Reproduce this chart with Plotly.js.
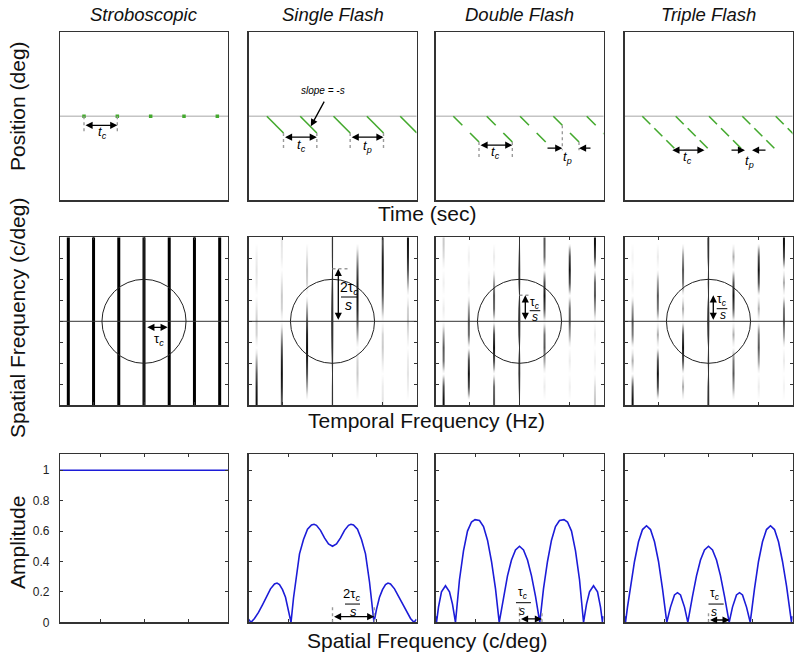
<!DOCTYPE html>
<html><head><meta charset="utf-8">
<script src="https://cdn.plot.ly/plotly-3.0.1.min.js"></script>
<style>html,body{margin:0;padding:0;background:#fff}#chart{width:800px;height:658px}</style>
</head><body><div id="chart"></div>
<script>
// ================= DATA =================
const panelTitles = ['Stroboscopic', 'Single Flash', 'Double Flash', 'Triple Flash'];
const rowXTitles = ['Time (sec)', 'Temporal Frequency (Hz)', 'Spatial Frequency (c/deg)'];
const rowYTitles = ['Position (deg)', 'Spatial Frequency (c/deg)', 'Amplitude'];

// Row 1: space-time (time in units of t_c, position in deg)
const strobeFlashTimes = [0.72, 1.72, 2.72, 3.72, 4.72];
const singleCycleStarts = [0.55, 1.55, 2.55, 3.55, 4.55];
const singleFlashOffsets = [0];
const singleFlashDur = 0.5;
const doubleCycleStarts = [0.535, 1.535, 2.535, 3.535, 4.535];
const doubleFlashOffsets = [0, 0.5];
const doubleFlashDur = 0.27;
const tripleCycleStarts = [0.535, 1.535, 2.535, 3.535, 4.535];
const tripleFlashOffsets = [0, 0.36, 0.72];
const tripleFlashDur = 0.24;
const speed = 1;

// Row 2: spectra (temporal frequency index of each bar, spatial-frequency rows)
const temporalFreqs = [-3, -2, -1, 0, 1, 2, 3];
const spatialRows = [-3.71, -3.10, -2.48, -1.86, -1.24, -0.62, 0, 0.62, 1.24, 1.86, 2.48, 3.10, 3.71];
const strobeSpectrum = [1, 1, 1, 1, 1, 1, 1];
const singleSpectrum = [
  [1, .90, .64, .30, 0, .18, .21, .13, 0, .10, .13, .08, 0],
  [.64, .90, 1, .90, .64, .30, 0, .18, .21, .13, 0, .10, .13],
  [0, .30, .64, .90, 1, .90, .64, .30, 0, .18, .21, .13, 0],
  [.21, .18, 0, .30, .64, .90, 1, .90, .64, .30, 0, .18, .21],
  [0, .13, .21, .18, 0, .30, .64, .90, 1, .90, .64, .30, 0],
  [.13, .10, 0, .13, .21, .18, 0, .30, .64, .90, 1, .90, .64],
  [0, .08, .13, .10, 0, .13, .21, .18, 0, .30, .64, .90, 1]
];
const doubleSpectrum = [
  [1, .69, 0, .55, .64, .33, 0, .10, 0, .08, 0, .15, .21],
  [0, .69, 1, .69, 0, .55, .64, .33, 0, .10, 0, .08, 0],
  [.64, .55, 0, .69, 1, .69, 0, .55, .64, .33, 0, .10, 0],
  [0, .33, .64, .55, 0, .69, 1, .69, 0, .55, .64, .33, 0],
  [0, .10, 0, .33, .64, .55, 0, .69, 1, .69, 0, .55, .64],
  [0, .08, 0, .10, 0, .33, .64, .55, 0, .69, 1, .69, 0],
  [.21, .15, 0, .08, 0, .10, 0, .33, .64, .55, 0, .69, 1]
];
const tripleSpectrum = [
  [1, .66, 0, .30, 0, .49, .64, .35, 0, .10, 0, .06, 0],
  [0, .66, 1, .66, 0, .30, 0, .49, .64, .35, 0, .10, 0],
  [0, .30, 0, .66, 1, .66, 0, .30, 0, .49, .64, .35, 0],
  [.64, .49, 0, .30, 0, .66, 1, .66, 0, .30, 0, .49, .64],
  [0, .35, .64, .49, 0, .30, 0, .66, 1, .66, 0, .30, 0],
  [0, .10, 0, .35, .64, .49, 0, .30, 0, .66, 1, .66, 0],
  [0, .06, 0, .10, 0, .35, .64, .49, 0, .30, 0, .66, 1]
];

// Row 3: amplitude vs spatial frequency
const strobeAmpX = [-1.909, 1.909];
const strobeAmp = [1, 1];
const singleAmpX = [-1.909,-1.852,-1.773,-1.682,-1.591,-1.5,-1.409,-1.318,-1.261,-1.205,-1.136,-1.068,-1.0,-0.943,-0.886,-0.841,-0.75,-0.659,-0.568,-0.477,-0.42,-0.364,-0.273,-0.182,-0.091,
  0, 0.091,0.182,0.273,0.364,0.42,0.477,0.568,0.659,0.75,0.841,0.886,0.943,1.0,1.068,1.136,1.205,1.261,1.318,1.409,1.5,1.591,1.682,1.773,1.852,1.909];
const singleAmp = [.020,0,.025,.065,.115,.170,.220,.252,.258,.248,.215,.165,.085,0,.160,.265,.450,.545,.612,.640,.645,.638,.605,.555,.515,
  .500, .515,.555,.605,.638,.645,.640,.612,.545,.450,.265,.160,0,.085,.165,.215,.248,.258,.252,.220,.170,.115,.065,.025,0,.020];
const doubleAmpX = [-1.909,-1.886,-1.841,-1.773,-1.682,-1.591,-1.523,-1.455,-1.364,-1.273,-1.182,-1.091,-1.011,-0.909,-0.818,-0.727,-0.636,-0.545,-0.461,-0.364,-0.273,-0.182,-0.091,
  0, 0.091,0.182,0.273,0.364,0.461,0.545,0.636,0.727,0.818,0.909,1.011,1.091,1.182,1.273,1.364,1.455,1.523,1.591,1.682,1.773,1.841,1.886,1.909];
const doubleAmp = [.04,0,.10,.20,.24,.20,.12,0,.28,.47,.60,.66,.675,.67,.63,.54,.40,.22,0,.17,.305,.41,.476,
  .50, .476,.41,.305,.17,0,.22,.40,.54,.63,.67,.675,.66,.60,.47,.28,0,.12,.20,.24,.20,.10,0,.04];
const tripleAmpX = [-1.909,-1.886,-1.841,-1.773,-1.682,-1.591,-1.5,-1.409,-1.318,-1.227,-1.136,-1.045,-0.948,-0.864,-0.773,-0.705,-0.636,-0.545,-0.47,-0.364,-0.273,-0.182,-0.091,
  0, 0.091,0.182,0.273,0.364,0.47,0.545,0.636,0.705,0.773,0.864,0.948,1.045,1.136,1.227,1.318,1.409,1.5,1.591,1.682,1.773,1.841,1.886,1.909];
const tripleAmp = [.04,0,.10,.24,.40,.53,.61,.635,.61,.53,.40,.22,0,.10,.18,.195,.18,.10,0,.17,.305,.41,.476,
  .50, .476,.41,.305,.17,0,.10,.18,.195,.18,.10,0,.22,.40,.53,.61,.635,.61,.53,.40,.24,.10,0,.04];
const ampTicks = [0, 0.2, 0.4, 0.6, 0.8, 1];

// ================= STYLE / LAYOUT =================
const FONT = 'Liberation Sans, Arial, Helvetica, sans-serif';
const GREEN = '#44a92e';
const BLUE = '#1c1cd8';
const FRAME = '#333333';
const GRAY = [[0, '#ffffff'], [0.12, '#e8e8e8'], [0.3, '#ababab'], [0.64, '#555555'], [1, '#101010']];
const W = 800, H = 658;
const colPx = [[60, 228], [248.5, 416.5], [435.5, 603.5], [624.5, 792.5]];
const rowPx = [[32.3, 200.3], [237.3, 405.3], [454.3, 622.3]];
const xRanges = [[0, 5.04], [-3.33, 3.33], [-1.909, 1.909]];
const yRanges = [[-2.52, 2.52], [-4, 4], [0, 1.105]];
const barHalf = 0.024;

const ref = i => (i === 1 ? '' : String(i));
const layout = {
  width: W, height: H, margin: {l: 0, r: 0, t: 0, b: 0},
  paper_bgcolor: '#fff', plot_bgcolor: '#fff', showlegend: false,
  font: {family: FONT, color: '#111'}
};
for (let r = 0; r < 3; r++) {
  for (let c = 0; c < 4; c++) {
    const i = r * 4 + c + 1;
    const base = {showline: true, mirror: r === 0 ? true : 'ticks', linecolor: FRAME, linewidth: 1.2,
      showgrid: false, zeroline: false, fixedrange: true, showticklabels: false,
      ticks: r === 0 ? '' : 'inside', ticklen: 3, tickwidth: 1, tickcolor: FRAME};
    layout['xaxis' + ref(i)] = Object.assign({}, base, {
      domain: [colPx[c][0] / W, colPx[c][1] / W], anchor: 'y' + ref(i), range: xRanges[r],
      tickmode: 'linear', tick0: 0, dtick: r === 1 ? 2 : 1
    });
    const ya = Object.assign({}, base, {
      domain: [1 - rowPx[r][1] / H, 1 - rowPx[r][0] / H], anchor: 'x' + ref(i), range: yRanges[r]
    });
    if (r === 1) { ya.tickmode = 'linear'; ya.tick0 = 0; ya.dtick = 1; }
    if (r === 2) {
      ya.tickmode = 'array'; ya.tickvals = ampTicks; ya.ticktext = ampTicks.map(String);
      if (c === 0) { ya.showticklabels = true; ya.tickfont = {size: 12, color: '#222'}; ya.ticklabelstandoff = 7; }
    }
    layout['yaxis' + ref(i)] = ya;
  }
}

// ================= TRACES =================
const traces = [];
function flashSegments(cycles, offsets, dur) {
  const x = [], y = [];
  cycles.forEach(c => offsets.forEach(o => {
    x.push(c + o, c + o + dur, null);
    y.push(-speed * o, -speed * (o + dur), null);
  }));
  return {x, y};
}
// row 1
traces.push({type: 'scatter', mode: 'markers', x: strobeFlashTimes, y: strobeFlashTimes.map(() => 0),
  marker: {symbol: 'square', size: 3.5, color: GREEN}, xaxis: 'x', yaxis: 'y', hoverinfo: 'skip'});
[[singleCycleStarts, singleFlashOffsets, singleFlashDur, 2],
 [doubleCycleStarts, doubleFlashOffsets, doubleFlashDur, 3],
 [tripleCycleStarts, tripleFlashOffsets, tripleFlashDur, 4]].forEach(([cs, off, d, i]) => {
  const s = flashSegments(cs, off, d);
  traces.push({type: 'scatter', mode: 'lines', x: s.x, y: s.y, line: {color: GREEN, width: 1.6},
    xaxis: 'x' + i, yaxis: 'y' + i, hoverinfo: 'skip'});
});
// row 2
{
  const x = [], y = [];
  temporalFreqs.forEach((k, j) => { if (strobeSpectrum[j] > 0) { x.push(k, k, null); y.push(yRanges[1][0], yRanges[1][1], null); } });
  traces.push({type: 'scatter', mode: 'lines', x, y, line: {color: '#000', width: 3}, xaxis: 'x5', yaxis: 'y5', hoverinfo: 'skip'});
}
[[singleSpectrum, 6], [doubleSpectrum, 7], [tripleSpectrum, 8]].forEach(([spec, i]) => {
  temporalFreqs.forEach((k, j) => {
    traces.push({type: 'heatmap', x: [k - barHalf, k + barHalf], y: spatialRows,
      z: spec[j].map(v => [v, v]), zmin: 0, zmax: 1, zsmooth: 'best', colorscale: GRAY,
      showscale: false, xaxis: 'x' + i, yaxis: 'y' + i, hoverinfo: 'skip'});
  });
});
// row 3
[[strobeAmpX, strobeAmp, 9], [singleAmpX, singleAmp, 10], [doubleAmpX, doubleAmp, 11], [tripleAmpX, tripleAmp, 12]]
  .forEach(([x, y, i]) => traces.push({type: 'scatter', mode: 'lines', x, y, line: {color: BLUE, width: 1.6},
    xaxis: 'x' + i, yaxis: 'y' + i, hoverinfo: 'skip'}));

// ================= SHAPES & ANNOTATIONS =================
const shapes = [], ann = [];
function arrow(i, x0, y0, x1, y1, both) {
  ann.push({xref: 'x' + ref(i), yref: 'y' + ref(i), axref: 'x' + ref(i), ayref: 'y' + ref(i),
    x: x1, y: y1, ax: x0, ay: y0, text: '', showarrow: true, arrowhead: 2, startarrowhead: 2,
    arrowsize: 1.1, startarrowsize: 1.1, arrowwidth: 1.3, arrowcolor: '#000',
    arrowside: both ? 'end+start' : 'end', standoff: 0, startstandoff: 0});
}
function label(i, x, y, text, size) {
  ann.push({xref: 'x' + ref(i), yref: 'y' + ref(i), x, y, text, showarrow: false,
    xanchor: 'center', yanchor: 'middle', font: {family: FONT, size: size || 13, color: '#000'}});
}
function dotted(i, x0, y0, x1, y1) {
  shapes.push({type: 'line', xref: 'x' + ref(i), yref: 'y' + ref(i), x0, y0, x1, y1,
    line: {color: '#9a9a9a', width: 1.4, dash: 'dot'}});
}
function bar(i, x0, x1, y) {
  shapes.push({type: 'line', xref: 'x' + ref(i), yref: 'y' + ref(i), x0, y0: y, x1, y1: y,
    line: {color: '#000', width: 1}});
}
const TC = '<i>t<sub>c</sub></i>', TP = '<i>t<sub>p</sub></i>';
const TAU = 'τ<sub><i>c</i></sub>', TAU2 = '2τ<sub><i>c</i></sub>', S_ = '<i>s</i>';

// row 1 reference line
for (let i = 1; i <= 4; i++) {
  shapes.push({type: 'line', layer: 'below', xref: 'x' + ref(i) + ' domain', yref: 'y' + ref(i),
    x0: 0, x1: 1, y0: 0, y1: 0, line: {color: '#c4c4c4', width: 1.5}});
}
// stroboscopic
dotted(1, 0.72, 0, 0.72, -0.51); dotted(1, 1.72, 0, 1.72, -0.51);
arrow(1, 0.72, -0.27, 1.72, -0.27, true);
label(1, 1.275, -0.49, TC, 13);
// single
[1.05, 2.05, 3.05, 4.05].forEach(t => dotted(2, t, -0.5, t, -0.955));
arrow(2, 1.05, -0.626, 2.05, -0.626, true);
arrow(2, 3.05, -0.626, 4.05, -0.626, true);
label(2, 1.575, -0.87, TC, 13);
label(2, 3.57, -0.9, TP, 13);
label(2, 2.245, 0.76, '<i>slope = -s</i>', 10);
arrow(2, 2.295, 0.485, 1.87, -0.30, false);
// double
dotted(3, 1.305, -0.77, 1.305, -1.225); dotted(3, 2.305, -0.77, 2.305, -1.225);
dotted(3, 3.805, -0.27, 3.805, -1.016); dotted(3, 4.305, -0.77, 4.305, -1.016);
arrow(3, 1.305, -0.866, 2.305, -0.866, true);
arrow(3, 3.315, -0.955, 3.805, -0.955, false);
arrow(3, 4.695, -0.955, 4.305, -0.955, false);
label(3, 1.81, -1.09, TC, 13);
label(3, 3.96, -1.24, TP, 13);
// triple
arrow(4, 1.39, -1.016, 2.40, -1.016, true);
arrow(4, 3.165, -1.016, 3.615, -1.016, false);
arrow(4, 4.275, -1.016, 3.825, -1.016, false);
label(4, 1.875, -1.24, TC, 13);
label(4, 3.735, -1.356, TP, 13);

// row 2 axes cross + circle
for (let i = 5; i <= 8; i++) {
  shapes.push({type: 'line', xref: 'x' + i + ' domain', yref: 'y' + i, x0: 0, x1: 1, y0: 0, y1: 0, line: {color: FRAME, width: 1}});
  shapes.push({type: 'line', xref: 'x' + i, yref: 'y' + i + ' domain', x0: 0, x1: 0, y0: 0, y1: 1, line: {color: FRAME, width: 1}});
  shapes.push({type: 'circle', xref: 'x' + i, yref: 'y' + i, x0: -1.667, x1: 1.667, y0: -2, y1: 2, line: {color: '#222', width: 1}});
}
arrow(5, 0.07, -0.286, 0.94, -0.286, true);
label(5, 0.6, -0.87, TAU, 13);
dotted(6, 0, 2.5, 0.69, 2.5);
arrow(6, 0.23, 0, 0.23, 2.5, true);
label(6, 0.655, 1.59, TAU2, 14); bar(6, 0.337, 0.972, 1.157); label(6, 0.627, 0.76, S_, 14);
dotted(7, 0, 1.238, 0.43, 1.238);
arrow(7, 0.23, 0, 0.23, 1.238, true);
label(7, 0.615, 0.895, TAU, 12); bar(7, 0.405, 0.825, 0.505); label(7, 0.627, 0.22, S_, 12);
arrow(8, 0.19, 0, 0.19, 1.238, true);
label(8, 0.536, 1.03, TAU, 12); bar(8, 0.325, 0.746, 0.6); label(8, 0.556, 0.286, S_, 12);

// row 3
dotted(10, 0, 0, 0, 0.103); dotted(10, 0.95, 0, 0.95, 0.10);
arrow(10, 0, 0.037, 0.95, 0.037, true);
label(10, 0.443, 0.18, TAU2, 13); bar(10, 0.284, 0.625, 0.12); label(10, 0.477, 0.074, S_, 13);
dotted(11, 0, 0, 0, 0.1); dotted(11, 0.511, 0, 0.511, 0.06);
arrow(11, 0, 0.022, 0.511, 0.022, true);
label(11, 0.09, 0.193, TAU, 12); bar(11, -0.08, 0.26, 0.129); label(11, 0.068, 0.074, S_, 12);
dotted(12, 0, 0, 0, 0.08);
arrow(12, 0, 0.015, 0.48, 0.015, true);
label(12, 0.155, 0.183, TAU, 12); bar(12, 0, 0.345, 0.12); label(12, 0.136, 0.068, S_, 12);

// titles
const colCenters = colPx.map(p => (p[0] + p[1]) / 2);
panelTitles.forEach((t, c) => ann.push({xref: 'paper', yref: 'paper', x: colCenters[c] / W, y: 1 - 14 / H,
  text: '<i>' + t + '</i>', showarrow: false, xanchor: 'center', yanchor: 'middle',
  font: {family: FONT, size: 18.5, color: '#111'}}));
const xTitleY = [213, 420, 640];
rowXTitles.forEach((t, r) => ann.push({xref: 'paper', yref: 'paper', x: 427 / W, y: 1 - xTitleY[r] / H,
  text: t, showarrow: false, xanchor: 'center', yanchor: 'middle', font: {family: FONT, size: 21, color: '#111'}}));
const yTitleY = [106, 318, 543];
rowYTitles.forEach((t, r) => ann.push({xref: 'paper', yref: 'paper', x: 17 / W, y: 1 - yTitleY[r] / H,
  text: t, showarrow: false, xanchor: 'center', yanchor: 'middle', textangle: -90,
  font: {family: FONT, size: 21, color: '#111'}}));

layout.shapes = shapes;
layout.annotations = ann;
Plotly.newPlot('chart', traces, layout, {staticPlot: true, displayModeBar: false});
</script>
</body></html>
